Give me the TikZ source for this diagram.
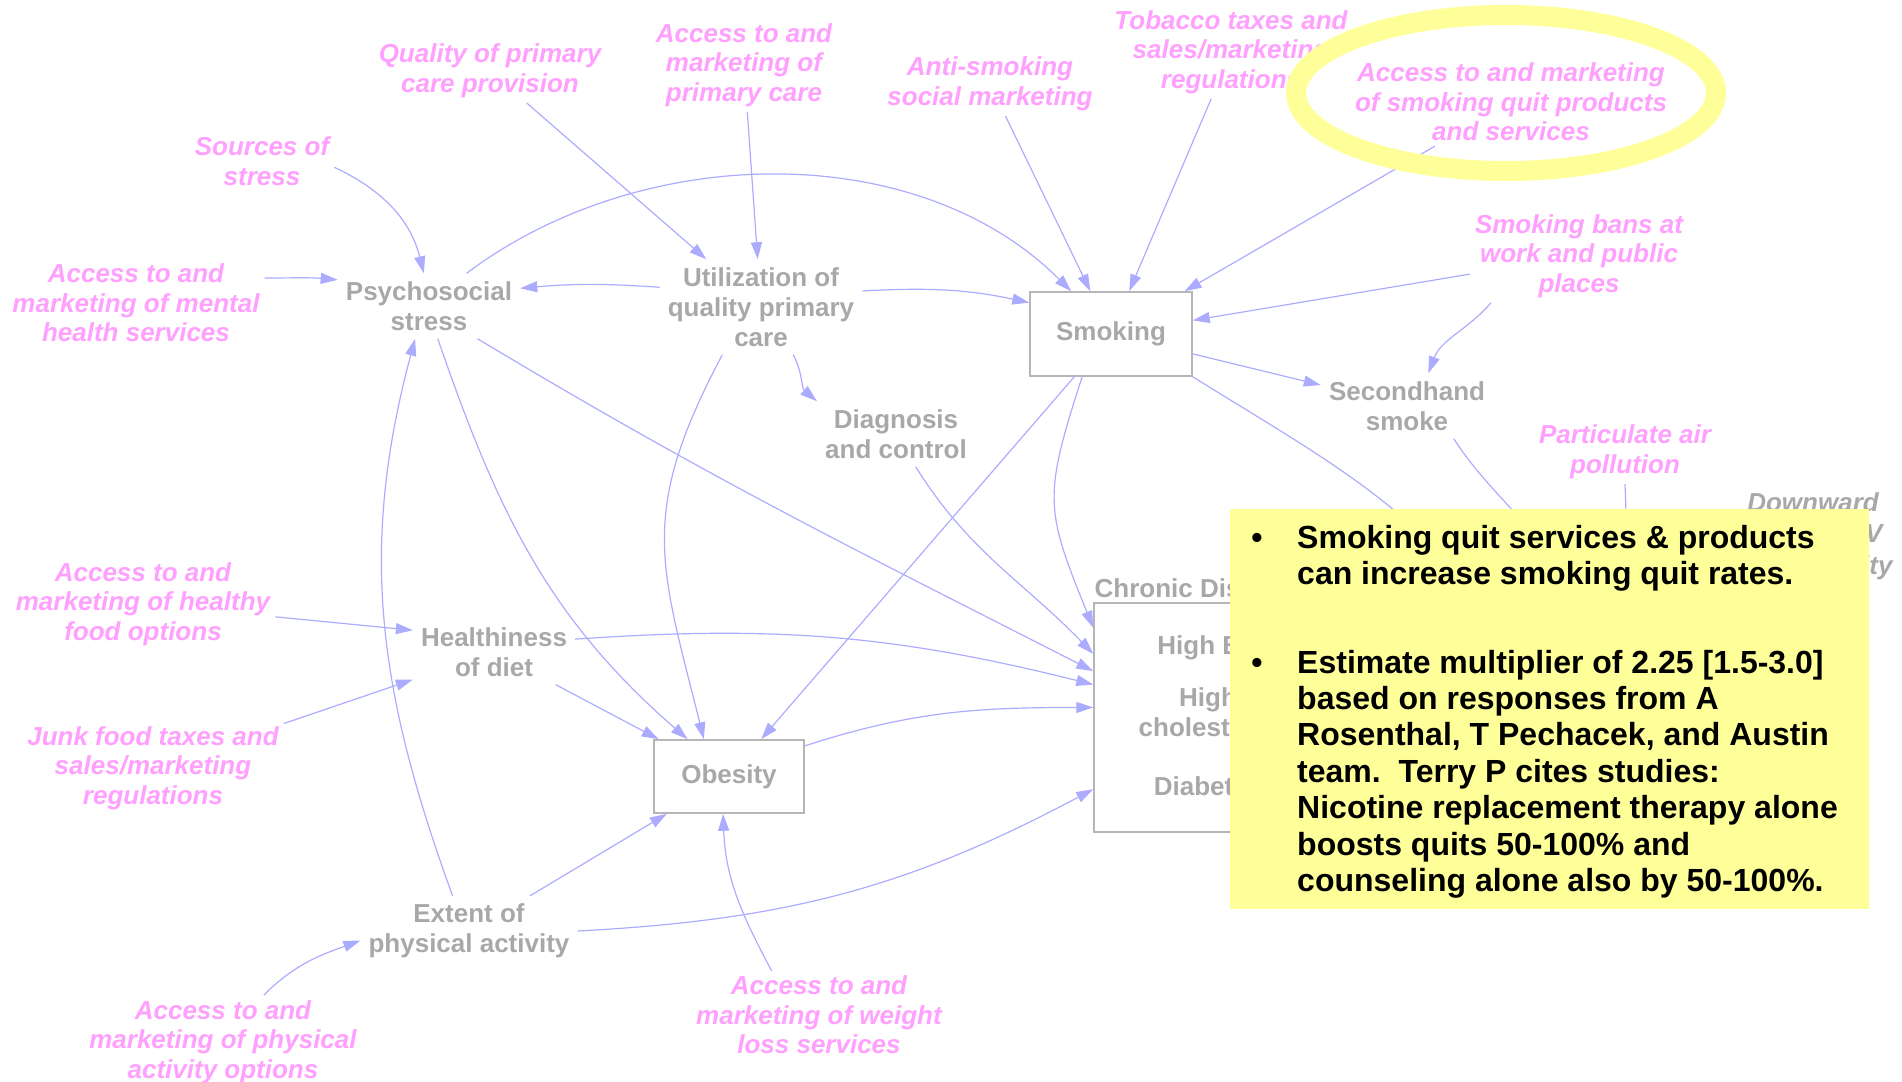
\documentclass[tikz,border=0pt]{standalone}
\usepackage{fontspec}
\setmainfont{Liberation Sans}
\usetikzlibrary{arrows.meta}

\definecolor{pinklbl}{RGB}{255,160,255}
\definecolor{graylbl}{RGB}{168,168,168}
\definecolor{linkblue}{RGB}{172,172,255}
\definecolor{boxgray}{RGB}{182,182,182}
\definecolor{notefill}{RGB}{255,255,153}

\tikzset{
  policy/.style={font=\fontsize{26}{29.5}\selectfont\bfseries\itshape,
    text=pinklbl, align=center, inner sep=5pt},
  factor/.style={font=\fontsize{26}{30}\selectfont\bfseries,
    text=graylbl, align=center, inner sep=8pt},
  stock/.style={factor, draw=boxgray, line width=1.5pt, fill=white, inner sep=0pt},
  link/.style={draw=linkblue, line width=1.2pt,
    -{Triangle[length=17pt,width=11pt]}},
  hiddenlink/.style={draw=linkblue, line width=1.2pt},
  notebox/.style={fill=notefill, draw=none, inner sep=0pt},
  notetext/.style={font=\fontsize{32}{36.4}\selectfont\bfseries,
    text=black, align=left, inner sep=0pt},
  ring/.style={draw=notefill, line width=20pt}
}

\begin{document}
\begin{tikzpicture}[x=1pt,y=1pt]
\useasboundingbox (0,0) rectangle (1902,-1081);

% ---- policy levers (pink)
\node[policy] (qual)    at (490,-71)   {Quality of primary\\care provision};
\node[policy] (accpc)   at (744,-65)   {Access to and\\marketing of\\primary care};
\node[policy] (anti)    at (990,-84)   {Anti-smoking\\social marketing};
\node[policy] (tob)     at (1231,-52)  {Tobacco taxes and\\sales/marketing\\regulations};
\node[policy] (quit)    at (1511,-102) {Access to and marketing\\of smoking quit products\\and services};
\node[policy] (src)     at (262,-161)  {Sources of\\stress};
\node[policy] (mental)  at (136,-303)  {Access to and\\marketing of mental\\health services};
\node[policy] (bans)    at (1579,-256) {Smoking bans at\\work and public\\places};
\node[policy] (pm)      at (1625,-452) {Particulate air\\pollution};
\node[policy] (food)    at (143,-604)  {Access to and\\marketing of healthy\\food options};
\node[policy] (junk)    at (153,-768)  {Junk food taxes and\\sales/marketing\\regulations};
\node[policy] (physacc) at (223,-1042) {Access to and\\marketing of physical\\activity options};
\node[policy] (weight)  at (819,-1015) {Access to and\\marketing of weight\\loss services};

% ---- intermediate factors (gray)
\node[factor] (psy)  at (429,-306) {Psychosocial\\stress};
\node[factor] (util) at (761,-307) {Utilization of\\quality primary\\care};
\node[factor] (shs)  at (1407,-406) {Secondhand\\smoke};
\node[factor] (diag) at (896,-434) {Diagnosis\\and control};
\node[factor] (diet) at (494,-652) {Healthiness\\of diet};
\node[factor] (ext)  at (469,-931) {Extent of\\physical activity};
\node[factor, font=\fontsize{26}{31.5}\selectfont\bfseries\itshape] (down) at (1813,-536)
  {Downward\\trend in CV\\event fatality};

% ---- stocks (boxed)
\node[stock, minimum width=162pt, minimum height=84pt] (smk)  at (1111,-334) {Smoking};
\node[stock, minimum width=150pt, minimum height=73pt] (obes) at (729,-776.5) {Obesity};
\node[stock, minimum width=228pt, minimum height=229pt] (chr) at (1208,-717.5) {};
\node[factor, inner sep=0pt] (chrlbl) at (1208,-588) {Chronic Disorders};
\node[factor, inner sep=0pt] (hbp)    at (1208,-648) {High BP};
\node[factor, inner sep=0pt] (hchol)  at (1208,-712) {High\\cholesterol};
\node[factor, inner sep=0pt] (diab)   at (1208,-786) {Diabetes};

% ---- end points of links that run under the note
\coordinate (h1) at (1500,-620);
\coordinate (h2) at (1560,-580);
\coordinate (h3) at (1628,-570);

% ---- causal links
\draw[link] (qual) -- (util);
\draw[link] (accpc) -- (util);
\draw[link] (anti) -- (smk);
\draw[link] (tob) -- (smk);
\draw[link] (quit) -- (smk);
\draw[link] (bans) -- (smk);
\draw[link] (bans.-152) to[out=-131,in=69] (shs.57);
\draw[link] (smk) -- (shs);
\draw[link] (smk) -- (obes);
\draw[link] (smk.-124) to[out=-108,in=112,looseness=1.3] (chr.142);
\draw[link] (util.9) to[out=3,in=168] (smk.159);
\draw[link] (util.169) to[out=176,in=5] (psy.11);
\draw[link] (psy.41) to[out=37,in=135,looseness=0.92] (smk.133);
\draw[link] (util.-56) to[out=-62,in=140] (diag.north west);
\draw[link] (util.-129) to[out=-118,in=104,looseness=1.2] (obes.124);
\draw[link] (psy.-75) to[out=-71,in=139] (obes.138);
\draw[link] (psy.-34) to[out=-31,in=153] (chr.158);
\draw[link] (diag.-59) to[out=-58,in=134] (chr.151);
\draw[link] (diet.9) to[out=4,in=166] (chr.164);
\draw[link] (diet) -- (obes);
\draw[link] (obes.22) to[out=18,in=180] (chr.175);
\draw[link] (ext.30) -- (obes);
\draw[link] (ext.0) to[out=3,in=208] (chr.212);
\draw[link] (ext.115) to[out=110,in=-105] (psy.-113);
\draw[link] (weight.137) to[out=118,in=-88] (obes.-99);
\draw[link] (physacc.49) to[out=45,in=200] (ext.185);
\draw[link] (food) -- (diet.165);
\draw[link] (junk) -- (diet);
\draw[link] (mental.11) to[out=0,in=175] (psy.164);
\draw[link] (src.-5) to[out=-25,in=104] (psy.99);
\draw[hiddenlink] (smk.south east) to[out=-32,in=128] (h1);
\draw[hiddenlink] (shs.-35) to[out=-57,in=115] (h2);
\draw[hiddenlink] (pm.south) -- (h3);

% ---- highlight ring around the quit-services lever
\draw[ring] (1506,-93) ellipse [x radius=210pt, y radius=78pt];

% ---- note
\node[notebox, minimum width=639pt, minimum height=400pt] (note) at (1549.5,-709) {};
\node[notetext, anchor=base] (b1) at (1257,-548) {\textbullet};
\node[notetext, anchor=north west] (t1) at (1297,-524.7)
  {Smoking quit services \& products\\can increase smoking quit rates.};
\node[notetext, anchor=base] (b2) at (1257,-673) {\textbullet};
\node[notetext, anchor=north west] (t2) at (1297,-649.7)
  {Estimate multiplier of 2.25 [1.5-3.0]\\based on responses from A\\Rosenthal, T Pechacek, and Austin\\team.\ \ Terry P cites studies:\\Nicotine replacement therapy alone\\boosts quits 50-100\% and\\counseling alone also by 50-100\%.};
\end{tikzpicture}
\end{document}
